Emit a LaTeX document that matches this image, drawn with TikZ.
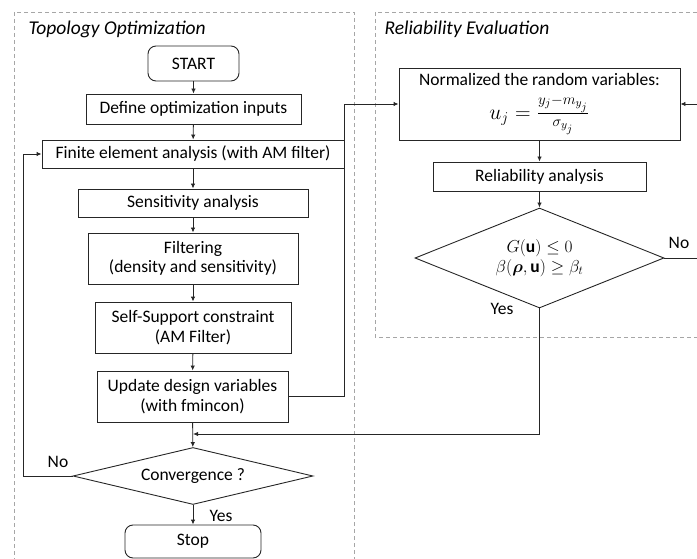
\documentclass[tikz,border=0pt]{standalone}
\usepackage{amsmath,bm,graphicx}
\usepackage{fontspec}
\setmainfont{Carlito}
\usetikzlibrary{shapes.geometric,arrows.meta,calc}
\begin{document}
\begin{tikzpicture}[x=1pt,y=-1pt,
  font=\fontsize{17.5}{19.5}\selectfont,
  box/.style={draw=black!85,line width=0.9pt,rectangle,inner sep=0pt,align=center},
  rbox/.style={box,rounded corners=8pt},
  dia/.style={draw=black!85,line width=0.9pt,diamond,inner sep=0pt,align=center},
  frame/.style={draw=black!35,dashed,line width=0.8pt,dash pattern=on 4pt off 3pt},
  arr/.style={draw=black!85,line width=0.9pt,-{Latex[length=5pt,width=4.5pt]}},
  ln/.style={draw=black!85,line width=0.9pt},
  ttl/.style={anchor=west,font=\fontsize{19.5}{21}\selectfont\itshape},
  lbl/.style={inner sep=0pt}]
\useasboundingbox (0,0) rectangle (697,559);
% frames
\draw[frame] (14,12) rectangle (354,575);
\draw[frame] (375,12) rectangle (715,337);
\node[ttl] (t1) at (25,29) {Topology Optimization};
\node[ttl] (t2) at (381,29) {Reliability Evaluation};
% left column
\node[rbox,minimum width=91pt,minimum height=35pt] (start) at (193.5,63.5) {START};
\node[box,minimum width=215pt,minimum height=30pt] (define) at (193.5,109) {Define optimization inputs};
\node[box,minimum width=302pt,minimum height=28pt] (fea) at (193,154) {Finite element analysis (with AM filter)};
\node[box,minimum width=230pt,minimum height=28pt] (sens) at (193,203) {Sensitivity analysis};
\node[box,minimum width=210pt,minimum height=51pt] (filt) at (193,258.5) {Filtering\\(density and sensitivity)};
\node[box,minimum width=196pt,minimum height=51pt] (self) at (193,327.5) {Self-Support constraint\\(AM Filter)};
\node[box,minimum width=191pt,minimum height=51pt] (upd) at (192.5,396.5) {Update design variables\\(with fmincon)};
\node[dia,aspect=4.2,minimum width=240pt,minimum height=57pt] (conv) at (193,476) {Convergence ?};
\node[rbox,minimum width=136pt,minimum height=33pt] (stop) at (193,541.5) {Stop};
% right column
\node[box,minimum width=281pt,minimum height=72pt] (norm) at (539.5,104) {Normalized the random variables:\\[9pt]\scalebox{1.25}{$u_j=\frac{y_j-m_{y_j}}{\sigma_{y_j}}$}};
\node[box,minimum width=213pt,minimum height=29pt] (rel) at (539.5,176.5) {Reliability analysis};
\node[dia,aspect=2.49,minimum width=249pt,minimum height=100pt] (dec) at (539.5,258) {$G(\mathbf{u})\le 0$\\$\beta(\bm{\rho},\mathbf{u})\ge\beta_t$};
% coordinates
\coordinate (loopx) at (23,476);
\coordinate (join) at (193,434);
\coordinate (redge1) at (697,258);
\coordinate (redge2) at (697,104);
% connectors
\draw[arr] (start) -- (define);
\draw[arr] (define) -- (fea);
\draw[arr] (fea) -- (sens);
\draw[arr] (sens) -- (filt);
\draw[arr] (filt) -- (self);
\draw[arr] (self) -- (upd);
\draw[arr] (upd) -- (conv);
\draw[arr] (conv) -- (stop);
\draw[arr] (upd.east) -| (fea.east |- norm.west) -- (norm.west);
\draw[arr] (conv.west) -- (loopx) |- (fea.west);
\draw[arr] (norm) -- (rel);
\draw[arr] (rel) -- (dec);
\draw[arr] (dec.south) |- (join);
\draw[ln] (dec.east) -- (redge1);
\draw[arr] (redge2) -- (norm.east);
% labels
\node[lbl] (lno1) at (58,462) {No};
\node[lbl] (lyes1) at (221,516) {Yes};
\node[lbl] (lno2) at (679,243) {No};
\node[lbl] (lyes2) at (502,309) {Yes};
\end{tikzpicture}
\end{document}
